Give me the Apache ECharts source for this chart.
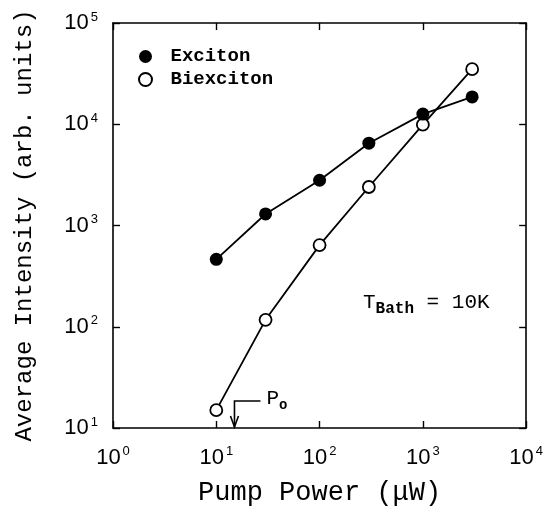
<!DOCTYPE html>
<html><head><meta charset="utf-8">
<script src="https://cdn.jsdelivr.net/npm/echarts@6/dist/echarts.min.js"></script>
<style>html,body{margin:0;padding:0;background:#fff}#c{width:546px;height:513px}</style>
</head><body><div id="c"></div>
<script>
// ---- data ----
const powers = [10, 30, 100, 300, 1000, 3000];            // µW
const exciton = [463, 1300, 2800, 6500, 12600, 18600];
const biexciton = [15, 117, 640, 2400, 9900, 35000];
const xRange = [1, 10000];
const yRange = [10, 100000];
const thresholdPower = 15;  // P_o
const seriesNames = ['Exciton', 'Biexciton'];
const xTitle = 'Pump Power (\u03bcW)';
const yTitle = 'Average Intensity (arb. units)';

const MONO = '"Liberation Mono","Courier New",monospace';
const SANS = '"Liberation Sans",Arial,sans-serif';

const chart = echarts.init(document.getElementById('c'), null, {renderer: 'canvas'});

const tickFmt = v => '{b|10}{s|' + Math.round(Math.log10(v)) + '}';
const tickRich = {
  b: {fontSize: 22, fontFamily: SANS, color: '#000'},
  s: {fontSize: 13, fontFamily: SANS, color: '#000', padding: [0, 0, 12, 2]}
};
const axisLine = {show: true, onZero: false, lineStyle: {color: '#000', width: 1.6}};
const axisTick = {show: true, inside: true, length: 7, lineStyle: {color: '#000', width: 1.4}};

const pair = arr => powers.map((p, i) => [p, arr[i]]);

chart.setOption({
  animation: false,
  backgroundColor: '#fff',
  grid: {left: 113, right: 18, top: 23, bottom: 85, containLabel: false},
  legend: {
    orient: 'vertical', left: 133, top: 42, icon: 'circle',
    itemWidth: 40, itemHeight: 13, itemGap: 4,
    textStyle: {fontFamily: MONO, fontSize: 19, fontWeight: 'bold', color: '#000', lineHeight: 19},
    data: seriesNames
  },
  xAxis: [{
    type: 'log', logBase: 10, min: xRange[0], max: xRange[1], position: 'bottom',
    axisLine, axisTick, splitLine: {show: false}, minorTick: {show: false},
    axisLabel: {formatter: tickFmt, rich: tickRich, margin: 17},
    name: xTitle, nameLocation: 'middle', nameGap: 51,
    nameTextStyle: {fontFamily: MONO, fontSize: 27, color: '#000'}
  }, {
    type: 'log', logBase: 10, min: xRange[0], max: xRange[1], position: 'top',
    axisLine, axisTick, splitLine: {show: false}, axisLabel: {show: false}
  }],
  yAxis: [{
    type: 'log', logBase: 10, min: yRange[0], max: yRange[1], position: 'left',
    axisLine, axisTick, splitLine: {show: false}, minorTick: {show: false},
    axisLabel: {formatter: tickFmt, rich: tickRich, margin: 15},
    name: yTitle, nameLocation: 'middle', nameGap: 76, nameRotate: 90,
    nameTextStyle: {fontFamily: MONO, fontSize: 24, color: '#000'}
  }, {
    type: 'log', logBase: 10, min: yRange[0], max: yRange[1], position: 'right',
    axisLine, axisTick, splitLine: {show: false}, axisLabel: {show: false}
  }],
  series: [{
    name: seriesNames[0], type: 'line', data: pair(exciton),
    symbol: 'circle', symbolSize: 13,
    lineStyle: {color: '#000', width: 1.8},
    itemStyle: {color: '#000', borderColor: '#000', borderWidth: 0},
    z: 3
  }, {
    name: seriesNames[1], type: 'line', data: pair(biexciton),
    symbol: 'circle', symbolSize: 12,
    lineStyle: {color: '#000', width: 1.8},
    itemStyle: {color: '#fff', borderColor: '#000', borderWidth: 1.8},
    z: 2
  }]
});

// annotations tied to the scales
const px = chart.convertToPixel({xAxisIndex: 0}, thresholdPower);
const yBottom = chart.convertToPixel({yAxisIndex: 0}, yRange[0]);
const yTop = yBottom - 27;
chart.setOption({
  graphic: [
    {type: 'polyline', shape: {points: [[px + 26, yTop], [px, yTop], [px, yBottom - 1]]},
     style: {stroke: '#000', lineWidth: 1.6, fill: null}, z: 10},
    {type: 'polyline', shape: {points: [[px - 4, yBottom - 12], [px, yBottom - 1], [px + 4, yBottom - 12]]},
     style: {stroke: '#000', lineWidth: 1.6, fill: null}, z: 10},
    {type: 'text', x: px + 32, y: yTop - 3, z: 10,
     style: {text: '{p|P}{o|o}', verticalAlign: 'middle',
       rich: {p: {fontFamily: MONO, fontSize: 21, color: '#000'},
              o: {fontFamily: MONO, fontSize: 14, fontWeight: 'bold', color: '#000', padding: [14, 0, 0, 0]}}}},
    {type: 'text', x: 363, y: 302, z: 10,
     style: {text: '{t|T}{b|Bath}{e| = 10K}', verticalAlign: 'middle',
       rich: {t: {fontFamily: MONO, fontSize: 21, color: '#000'},
              b: {fontFamily: MONO, fontSize: 16, fontWeight: 'bold', color: '#000', padding: [14, 0, 0, 0]},
              e: {fontFamily: MONO, fontSize: 21, color: '#000'}}}}
  ]
});
</script></body></html>
